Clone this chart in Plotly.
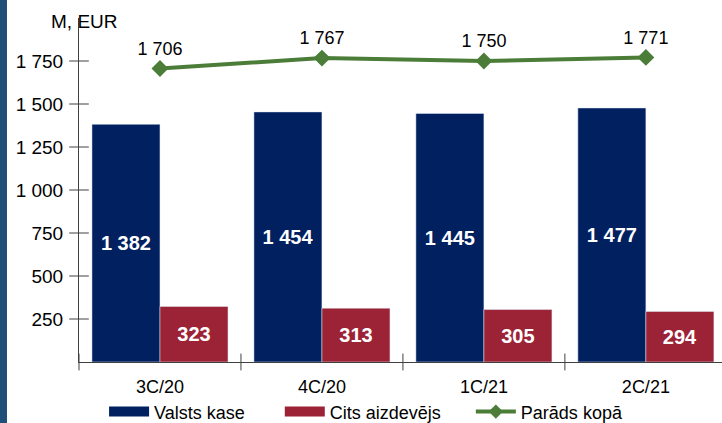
import plotly.graph_objects as go

categories = ["3C/20", "4C/20", "1C/21", "2C/21"]
valsts_kase = [1382, 1454, 1445, 1477]
cits_aizdevejs = [323, 313, 305, 294]
parads_kopa = [1706, 1767, 1750, 1771]
ytick_vals = [250, 500, 750, 1000, 1250, 1500, 1750]

def fmt(v):
    return f"{v:,}".replace(",", " ")

FONT = "Liberation Sans, Arial, sans-serif"
BLUE = "#002060"
RED = "#9C2236"
GREEN = "#4B7D38"
AX = "#404040"

fig = go.Figure()
fig.add_trace(go.Bar(
    x=categories, y=valsts_kase, name="Valsts kase", marker_color=BLUE, showlegend=False,
    text=[fmt(v) for v in valsts_kase], textposition="inside", insidetextanchor="middle",
    textfont=dict(color="white", size=20, family=FONT, weight="bold"), textangle=0,
))
fig.add_trace(go.Bar(
    x=categories, y=cits_aizdevejs, name="Cits aizdevējs", marker_color=RED, showlegend=False,
    text=[fmt(v) for v in cits_aizdevejs], textposition="inside", insidetextanchor="middle",
    textfont=dict(color="white", size=20, family=FONT, weight="bold"), textangle=0,
))
fig.add_trace(go.Scatter(
    x=categories, y=parads_kopa, name="Parāds kopā", mode="lines+markers+text", showlegend=False,
    line=dict(color=GREEN, width=4), marker=dict(symbol="diamond", size=13, color=GREEN),
    text=[fmt(v) for v in parads_kopa], textposition="top center",
    textfont=dict(color="black", size=18, family=FONT),
))

xr = [-0.5, 3.47]
# y-axis tick marks crossing the axis line (drawn on a linear overlay x axis)
fig.add_trace(go.Scatter(
    x=[-0.5] * len(ytick_vals), y=ytick_vals, xaxis="x2", mode="markers",
    marker=dict(symbol="line-ew", size=14, line=dict(color=AX, width=1)),
    cliponaxis=False, showlegend=False, hoverinfo="skip",
))
# x-axis boundary tick marks
fig.add_trace(go.Scatter(
    x=[i - 0.5 for i in range(len(categories))], y=[0] * len(categories), xaxis="x2",
    mode="markers", marker=dict(symbol="line-ns", size=12, line=dict(color=AX, width=1)),
    cliponaxis=False, showlegend=False, hoverinfo="skip",
))
# legend entries
for name, col, pad in [("Valsts kase", BLUE, 6), ("Cits aizdevējs", RED, 5)]:
    fig.add_trace(go.Scatter(x=[None], y=[None], name=name + "\u00a0" * pad, mode="lines",
                             line=dict(color=col, width=10)))
fig.add_trace(go.Scatter(x=[None], y=[None], name="Parāds kopā", mode="lines+markers",
                         line=dict(color=GREEN, width=4),
                         marker=dict(symbol="diamond", size=11, color=GREEN)))

fig.update_layout(
    width=722, height=423,
    margin=dict(l=79, r=0, t=18, b=61, autoexpand=False),
    paper_bgcolor="white", plot_bgcolor="white",
    barmode="group", bargap=0.16, bargroupgap=0,
    font=dict(family=FONT, size=18, color="black"),
    showlegend=True,
    legend=dict(orientation="h", x=0.039, xanchor="left", y=-0.145, yanchor="middle",
                font=dict(size=18, family=FONT), itemwidth=40,
                traceorder="normal", bgcolor="rgba(0,0,0,0)"),
    xaxis=dict(type="category", range=xr, showline=True, linecolor=AX, linewidth=1,
               ticks="", tickfont=dict(size=18), showgrid=False, zeroline=False,
               automargin=False, ticklabelstandoff=8),
    xaxis2=dict(overlaying="x", anchor="y", range=xr, visible=False),
    yaxis=dict(range=[0, 2000], tickvals=ytick_vals, ticktext=[fmt(v) for v in ytick_vals],
               showline=True, linecolor=AX, linewidth=1, ticks="outside", ticklen=7,
               tickcolor="rgba(0,0,0,0)", showgrid=False, zeroline=False,
               tickfont=dict(size=19), automargin=False, ticklabelstandoff=4),
    annotations=[dict(text="M, EUR", xref="paper", yref="paper", x=-0.046, y=(362 - 21) / 344,
                      xanchor="left", yanchor="middle", showarrow=False,
                      font=dict(size=19, family=FONT))],
    shapes=[dict(type="rect", xref="paper", yref="paper", x0=-79/643, x1=-72/643,
                 y0=-61/344, y1=1 + 18/344, fillcolor="#1F4E79", line_width=0, layer="above")],
)
fig.write_html("out.html", post_script="document.body.style.margin='0';",
               config={"displayModeBar": False})
